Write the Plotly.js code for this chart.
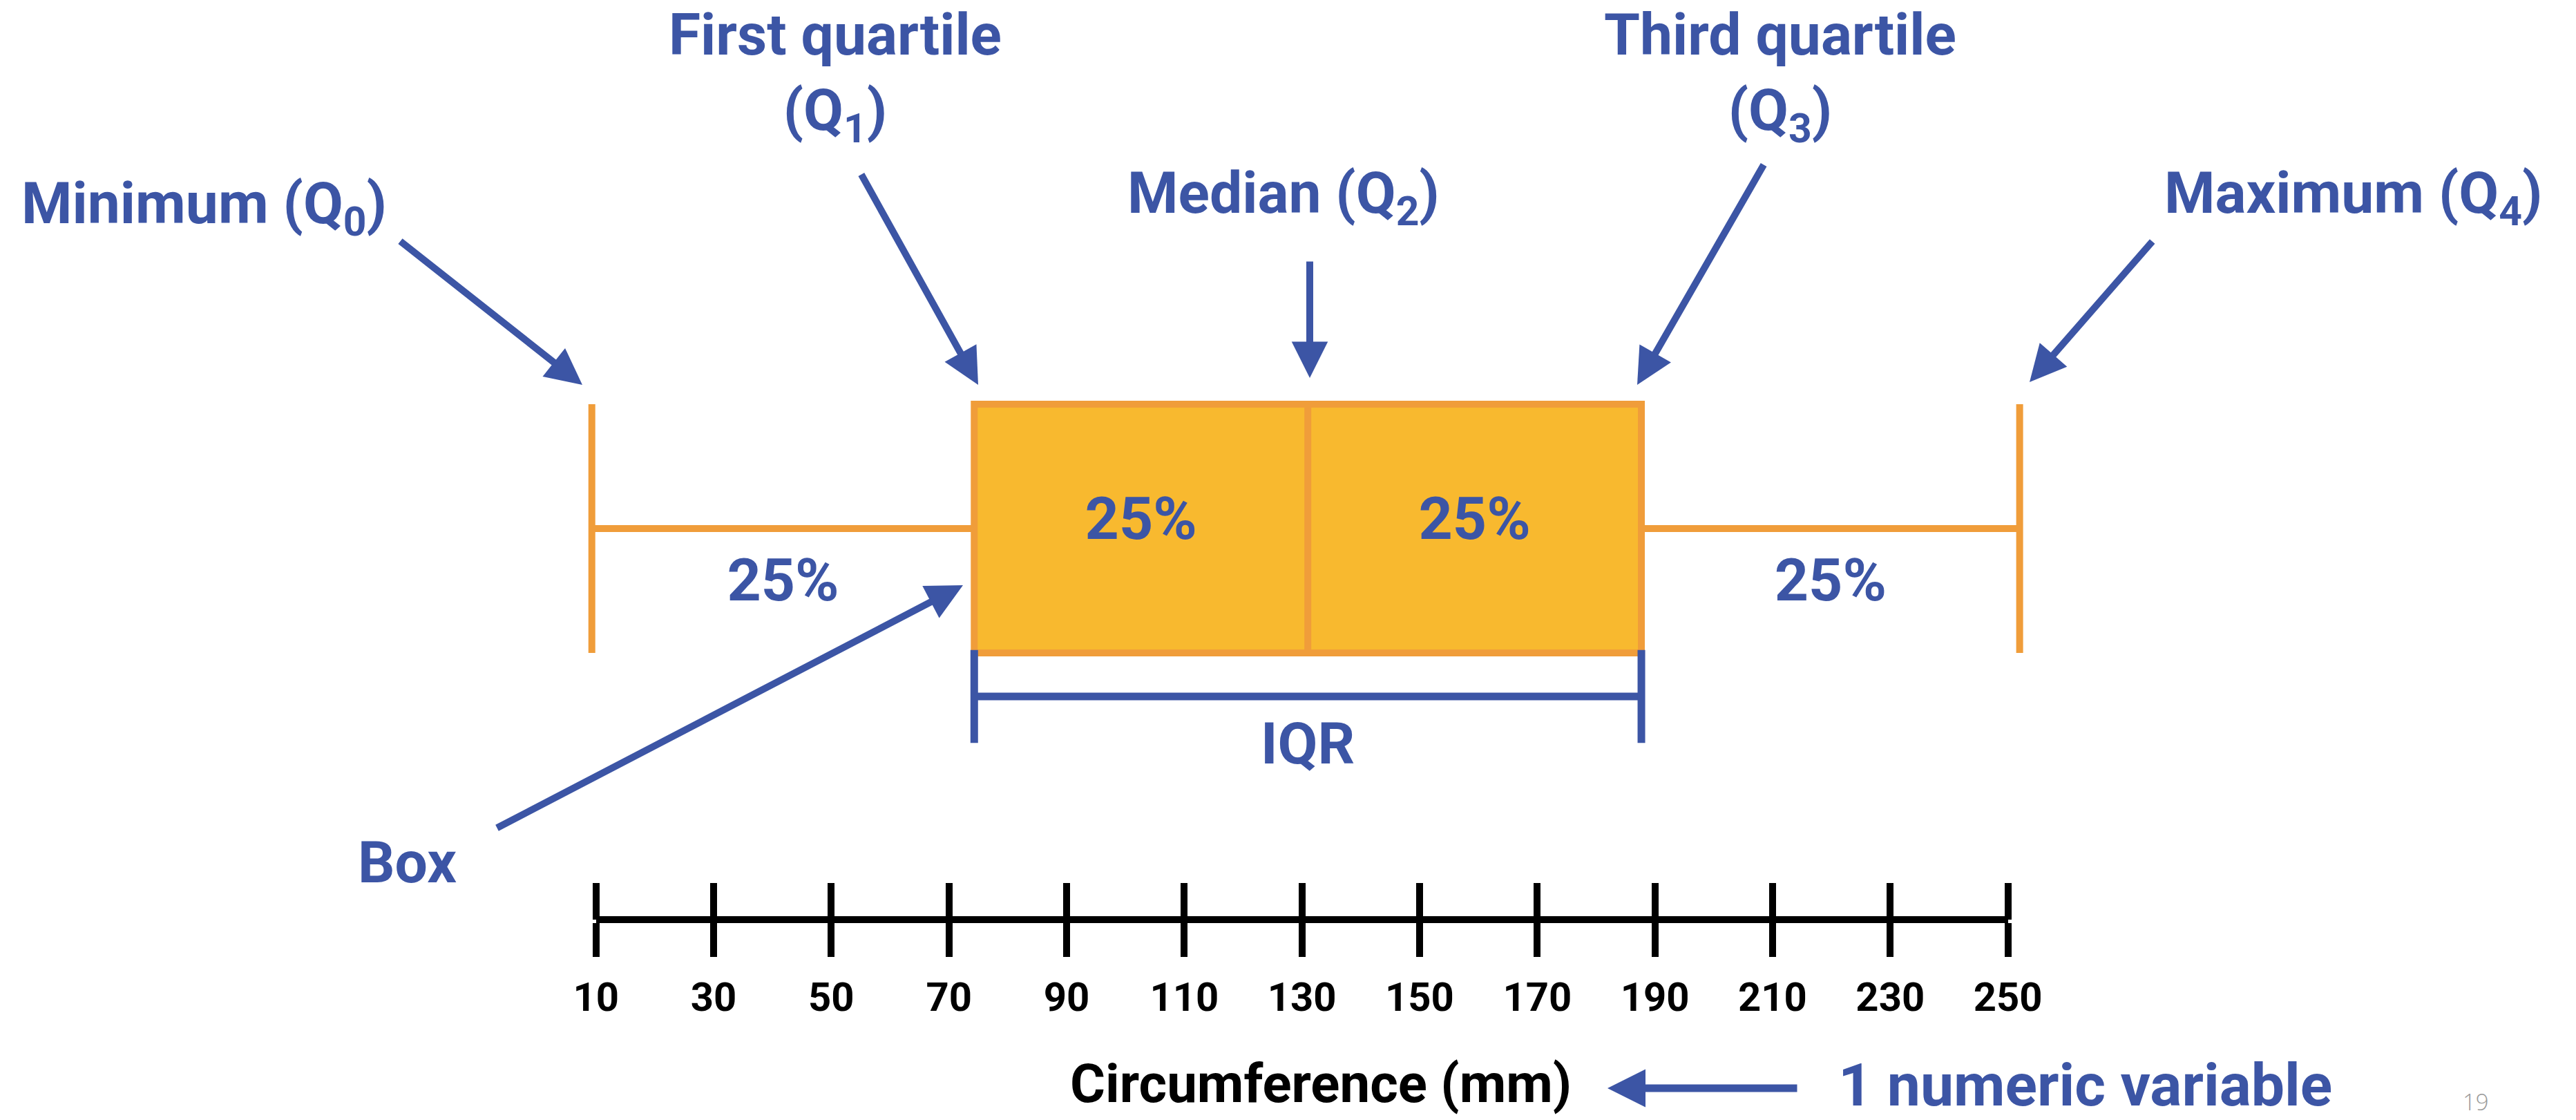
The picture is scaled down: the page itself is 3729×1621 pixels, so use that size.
<!DOCTYPE html>
<html>
<head>
<meta charset="utf-8">
<script src="https://cdn.plot.ly/plotly-3.0.1.min.js"></script>
<style>
html,body{margin:0;padding:0;background:#ffffff;overflow:hidden;}
#chart{width:3729px;height:1621px;}
</style>
</head>
<body>
<div id="chart"></div>
<script>
// ---------------- data ----------------
const lowerFence    = [9.3];    // Minimum (Q0)
const firstQuartile = [74.3];   // Q1
const medianValue   = [131];    // Q2
const thirdQuartile = [187.7];  // Q3
const upperFence    = [252];    // Maximum (Q4)
const segmentShares = ['25%', '25%', '25%', '25%'];
const tickValues = [10, 30, 50, 70, 90, 110, 130, 150, 170, 190, 210, 230, 250];
const tickLabels = ['10', '30', '50', '70', '90', '110', '130', '150', '170', '190', '210', '230', '250'];
const axisTitle = 'Circumference (mm)';
const variableNote = '1 numeric variable';
const calloutTexts = {
  min: 'Minimum (Q<sub>0</sub>)',
  q1: 'First quartile<br>(Q<sub>1</sub>)',
  med: 'Median (Q<sub>2</sub>)',
  q3: 'Third quartile<br>(Q<sub>3</sub>)',
  max: 'Maximum (Q<sub>4</sub>)',
  box: 'Box',
  iqr: 'IQR'
};
const pageNumber = '19';

// ---------------- layout geometry ----------------
const W = 3729, H = 1621;
const BLUE = '#3C55A5', ORANGE = '#F09D3A', FILL = '#F8B92F';
const FONT = 'Roboto, Arial, sans-serif';
const TICK0_PX = 862.7, TICKN_PX = 2906.6;           // pixel place of first / last axis tick
const pxPerUnit = (TICKN_PX - TICK0_PX) / (tickValues[tickValues.length - 1] - tickValues[0]);
const xr0 = tickValues[0] - TICK0_PX / pxPerUnit;
const xr1 = xr0 + W / pxPerUnit;
const BOX_CENTER_PX = 765, BOX_HEIGHT_PX = 360;       // 1 y-unit = box height
const yFromPx = p => (BOX_CENTER_PX - p) / BOX_HEIGHT_PX;
const yRange = [yFromPx(H), yFromPx(0)];
const AXIS_PX = 1331;

const mid = (a, b) => (a + b) / 2;
const lf = lowerFence[0], q1 = firstQuartile[0], md = medianValue[0], q3 = thirdQuartile[0], uf = upperFence[0];

// ---------------- traces ----------------
const traces = [
  {
    type: 'box', orientation: 'h', y: [0],
    q1: firstQuartile, median: medianValue, q3: thirdQuartile,
    lowerfence: lowerFence, upperfence: upperFence,
    width: 1, whiskerwidth: 1, boxpoints: false,
    fillcolor: FILL, line: {color: ORANGE, width: 10},
    hoverinfo: 'skip', showlegend: false, xaxis: 'x', yaxis: 'y'
  },
  {
    type: 'scatter', mode: 'text',
    x: [mid(lf, q1), mid(q1, md), mid(md, q3), mid(q3, uf)],
    y: [yFromPx(847.5), yFromPx(758.5), yFromPx(758.5), yFromPx(847.5)],
    text: segmentShares, textposition: 'middle center',
    textfont: {family: FONT, size: 86, color: BLUE, weight: 'bold'},
    hoverinfo: 'skip', showlegend: false, xaxis: 'x', yaxis: 'y'
  },
  {
    type: 'scatter', mode: 'lines+markers',
    x: [q1, q3], y: [yFromPx(1008), yFromPx(1008)],
    line: {color: BLUE, width: 11},
    marker: {symbol: 'line-ns', size: 96, color: BLUE, line: {color: BLUE, width: 11}},
    hoverinfo: 'skip', showlegend: false, xaxis: 'x', yaxis: 'y'
  },
  {
    type: 'scatter', mode: 'markers', x: [tickValues[0], tickValues[tickValues.length - 1]], y: [0, 0],
    marker: {opacity: 0}, hoverinfo: 'skip', showlegend: false, xaxis: 'x2', yaxis: 'y'
  },
  {
    type: 'scatter', mode: 'markers', x: [tickValues[0], tickValues[tickValues.length - 1]], y: [0, 0],
    marker: {opacity: 0}, hoverinfo: 'skip', showlegend: false, xaxis: 'x3', yaxis: 'y'
  }
];

// ---------------- annotations ----------------
function label(text, px, py, size, color, xanchor, extra) {
  return Object.assign({
    xref: 'paper', yref: 'paper', x: px / W, y: 1 - py / H,
    xanchor: xanchor || 'center', yanchor: 'middle', align: 'center',
    text: text, showarrow: false,
    font: {family: FONT, size: size, color: color, weight: 'bold'}
  }, extra || {});
}
function arrow(tipX, tipY, tailX, tailY, width, size) {
  return {
    xref: 'paper', yref: 'paper', x: tipX / W, y: 1 - tipY / H,
    axref: 'pixel', ayref: 'pixel', ax: tailX - tipX, ay: tailY - tipY,
    text: '', showarrow: true, arrowhead: 2, arrowwidth: width, arrowsize: size,
    arrowcolor: BLUE, standoff: 0, startstandoff: 0
  };
}

const annotations = [
  label(calloutTexts.min, 29, 300, 84, BLUE, 'left'),
  label(calloutTexts.q1, 1209, 0, 84, BLUE, 'center', {yanchor: 'top', borderpad: 0}),
  label(calloutTexts.med, 1858, 285, 84, BLUE),
  label(calloutTexts.q3, 2577, 0, 84, BLUE, 'center', {yanchor: 'top', borderpad: 0}),
  label(calloutTexts.max, 3406, 285, 84, BLUE),
  label(calloutTexts.box, 589, 1248, 84, BLUE),
  Object.assign(label(calloutTexts.iqr, 0, 1076, 84, BLUE), {xref: 'x', x: mid(q1, q3)}),
  label(axisTitle, 1912, 1568, 78, '#000000'),
  label(variableNote, 2659, 1570, 86, BLUE, 'left'),
  label(pageNumber, 3584, 1594, 33, '#9A9A9A', 'center', {font: {family: 'Open Sans, sans-serif', size: 33, color: '#9A9A9A', weight: 300}}),
  arrow(843, 557, 578, 348, 10, 1.05),
  arrow(1416, 557, 1246, 251, 10, 1.05),
  arrow(1896, 547, 1896, 377, 10, 1.05),
  arrow(2370, 557, 2554, 237, 10, 1.05),
  arrow(2938, 553, 3117, 348, 10, 1.05),
  arrow(1394, 847, 718, 1199, 10, 1.05),
  arrow(2327, 1575, 2603, 1575, 11, 1.0)
];

// ---------------- layout ----------------
const layout = {
  width: W, height: H,
  margin: {l: 0, r: 0, t: 0, b: 0, pad: 0},
  paper_bgcolor: '#ffffff', plot_bgcolor: 'rgba(0,0,0,0)',
  showlegend: false, hovermode: false,
  xaxis: {domain: [0, 1], range: [xr0, xr1], visible: false, fixedrange: true},
  yaxis: {domain: [0, 1], range: yRange, visible: false, fixedrange: true},
  xaxis2: {
    domain: [TICK0_PX / W, TICKN_PX / W], range: [tickValues[0], tickValues[tickValues.length - 1]],
    anchor: 'free', position: 1 - AXIS_PX / H,
    showline: true, linecolor: '#000000', linewidth: 10,
    ticks: 'outside', ticklen: 49, tickwidth: 10, tickcolor: '#000000',
    tickmode: 'array', tickvals: tickValues, ticktext: tickLabels,
    tickfont: {family: FONT, size: 58, color: '#000000', weight: 'bold'},
    ticklabelstandoff: 8,
    showgrid: false, zeroline: false, fixedrange: true
  },
  xaxis3: {
    overlaying: 'x2', range: [tickValues[0], tickValues[tickValues.length - 1]],
    anchor: 'free', position: 1 - AXIS_PX / H, side: 'top',
    showline: false, ticks: 'outside', ticklen: 53, tickwidth: 10, tickcolor: '#000000',
    tickmode: 'array', tickvals: tickValues, showticklabels: false,
    showgrid: false, zeroline: false, fixedrange: true
  },
  annotations: annotations
};

Plotly.newPlot('chart', traces, layout, {staticPlot: true, displayModeBar: false});
</script>
</body>
</html>
